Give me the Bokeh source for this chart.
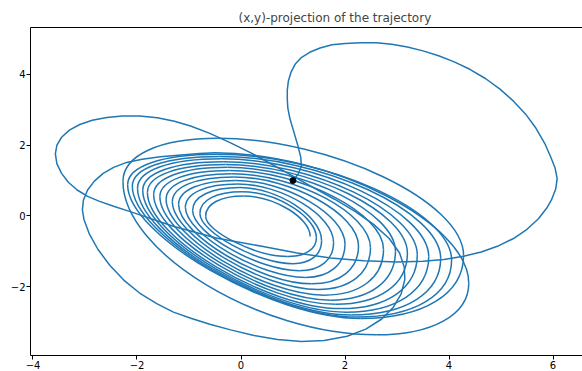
import numpy as np
from bokeh.plotting import figure
from bokeh.models import ColumnDataSource, FixedTicker, LinearAxis, Range1d
from bokeh.embed import file_html
from bokeh.resources import INLINE

# ---------------- data ----------------
title_text = "(x,y)-projection of the trajectory"
x_ticks = [-4, -2, 0, 2, 4, 6]
x_tick_labels = ["\u22124", "\u22122", "0", "2", "4", "6"]
y_ticks = [-2, 0, 2, 4]
y_tick_labels = ["\u22122", "0", "2", "4"]

start_x = [1.00]
start_y = [1.00]

# large outer excursions, traced point by point
outer_x = [1.00, 1.10, 1.16, 1.15, 1.10, 1.02, 0.94, 0.90, 0.89, 0.89, 0.91, 0.96, 1.04, 1.16, 1.32,
           1.52, 1.75, 2.00, 2.30, 2.60, 2.90, 3.20, 3.50, 3.80, 4.10, 4.40, 4.70, 4.98, 5.24, 5.47,
           5.67, 5.84, 5.96, 6.04, 6.08, 6.05, 5.97, 5.88, 5.72, 5.50, 5.24, 4.93, 4.62, 4.28, 3.90,
           3.50, 3.00, 2.36, 1.72, 1.08, 0.40, -0.46, -1.29, -2.13, -2.45, -2.72, -2.95, -3.15, -3.32,
           -3.45, -3.54, -3.57, -3.54, -3.45, -3.30, -3.10, -2.86, -2.58, -2.28, -1.95, -1.61, -1.28,
           -0.97, -0.60, -0.20, 0.20, 0.60, 1.00, 1.40, 1.80, 2.20, 2.55, 2.85, 3.05, 3.14, 3.15, 3.08,
           2.93, 2.70, 2.40, 2.04, 1.60, 1.16, 0.70, 0.25, -0.20, -0.60, -0.95, -1.30, -1.62, -1.95,
           -2.25, -2.52, -2.75, -2.92, -3.02, -3.05, -3.03, -2.95, -2.82, -2.65, -2.45, -2.20, -1.90,
           -1.55, -1.15, -0.80, -0.50]
outer_y = [1.00, 1.18, 1.40, 1.65, 1.95, 2.35, 2.75, 3.05, 3.30, 3.55, 3.80, 4.05, 4.28, 4.47, 4.62,
           4.74, 4.83, 4.87, 4.89, 4.89, 4.85, 4.77, 4.66, 4.52, 4.35, 4.14, 3.88, 3.58, 3.24, 2.88,
           2.48, 2.05, 1.65, 1.35, 1.05, 0.75, 0.45, 0.22, -0.08, -0.38, -0.64, -0.86, -1.02, -1.14, -1.23,
           -1.28, -1.30, -1.27, -1.19, -1.05, -0.86, -0.63, -0.30, 0.12, 0.27, 0.41, 0.55, 0.73, 0.95,
           1.20, 1.47, 1.75, 2.00, 2.22, 2.42, 2.58, 2.70, 2.78, 2.82, 2.82, 2.77, 2.67,
           2.54, 2.33, 2.06, 1.77, 1.45, 1.12, 0.79, 0.47, 0.12, -0.24, -0.64, -1.05, -1.45, -1.80, -2.20,
           -2.58, -2.92, -3.20, -3.40, -3.52, -3.55, -3.49, -3.38, -3.22, -3.06, -2.90, -2.72, -2.48, -2.18,
           -1.82, -1.40, -0.95, -0.50, -0.10, 0.17, 0.45, 0.73, 0.98, 1.20, 1.37, 1.51, 1.60,
           1.67, 1.72, 1.76, 1.78]

# spiral part: turning points of each loop (T = top, R = right, B = bottom, L = left)
spiral_x = [-0.50, 4.38, 2.60, -2.27, -0.45, 4.28, 2.30, -2.18, -0.46, 4.05, 2.22, -2.09, -0.42,
            3.84, 2.12, -1.99, -0.38, 3.61, 2.02, -1.89, -0.34, 3.39, 1.92, -1.80, -0.30, 3.20, 1.82,
            -1.68, -0.26, 2.97, 1.72, -1.56, -0.22, 2.74, 1.60, -1.44, -0.18, 2.49, 1.48, -1.32, -0.14,
            2.26, 1.36, -1.20, -0.10, 2.00, 1.24, -1.07, -0.06, 1.78, 1.12, -0.93, -0.02, 1.55, 1.00,
            -0.79, 0.02, 1.45, 0.90, -0.68, 0.05, 1.33]
spiral_y = [1.78, -1.90, -3.36, 0.97, 2.19, -1.12, -2.90, 0.88, 1.74, -1.25, -2.86, 0.84, 1.68,
            -1.20, -2.80, 0.78, 1.61, -1.15, -2.72, 0.72, 1.53, -1.10, -2.62, 0.66, 1.45, -1.05, -2.50,
            0.60, 1.37, -1.00, -2.38, 0.54, 1.28, -0.95, -2.24, 0.47, 1.19, -0.90, -2.08, 0.40, 1.10,
            -0.85, -1.92, 0.32, 1.00, -0.80, -1.74, 0.24, 0.90, -0.75, -1.55, 0.15, 0.80, -0.70, -1.35,
            0.07, 0.68, -0.62, -1.15, -0.01, 0.56, -0.58]
spiral_kind = ["T", "R", "B", "L"] * 15 + ["T", "R"]

# ---------------- figure ----------------
p = figure(width=582, height=371, output_backend="svg", toolbar_location=None,
           x_range=Range1d(-4.048, 6.567), y_range=Range1d(-3.944, 5.32),
           min_border_left=30, min_border_right=0, min_border_top=27, min_border_bottom=14)
p.title.text = title_text
p.title.text_font = "DejaVu Sans"
p.title.text_font_size = "12px"
p.title.text_font_style = "normal"
p.title.align = "left"
p.title.offset = 208
p.title.standoff = 5
p.outline_line_color = None
p.grid.visible = False
p.background_fill_color = "white"

for ax in (p.xaxis[0], p.yaxis[0]):
    ax.axis_line_color = "black"
    ax.axis_line_width = 1
    ax.major_tick_line_color = "black"
    ax.major_tick_in = 0
    ax.major_tick_out = 4
    ax.minor_tick_line_color = None
    ax.major_label_text_font = "DejaVu Sans"
    ax.major_label_text_font_size = "10px"
    ax.major_label_text_color = "black"
    ax.major_label_standoff = 1
p.xaxis.ticker = FixedTicker(ticks=x_ticks)
p.yaxis.ticker = FixedTicker(ticks=y_ticks)
p.xaxis.major_label_overrides = dict(zip(x_ticks, x_tick_labels))
p.yaxis.major_label_overrides = dict(zip(y_ticks, y_tick_labels))

top = LinearAxis(ticker=FixedTicker(ticks=[]), axis_line_color="black", axis_line_width=1,
                 major_tick_line_color=None, minor_tick_line_color=None,
                 major_label_text_font_size="0px")
p.add_layout(top, "above")

line_color = "#1f77b4"
p.line(outer_x, outer_y, line_color=line_color, line_width=1.5)

# smooth elliptic arcs through the turning points (vertical tangent at L/R, horizontal at T/B);
# handle fraction: longer round the loop ends, shorter along the long tilted sides
sx = np.array(spiral_x); sy = np.array(spiral_y)
kinds = np.array(spiral_kind)
x0, y0, x1, y1 = sx[:-1], sy[:-1], sx[1:], sy[1:]
k0 = kinds[:-1]
seg = np.arange(len(k0))
kseg = np.where(np.isin(k0, ["L", "R"]), 0.61, 0.46)
kseg = np.where((k0 == "B") & (seg >= 4), 0.38, kseg)
vert0 = np.isin(kinds[:-1], ["L", "R"])
vert1 = np.isin(kinds[1:], ["L", "R"])
cx0 = np.where(vert0, x0, x0 + kseg * (x1 - x0))
cy0 = np.where(vert0, y0 + kseg * (y1 - y0), y0)
cx1 = np.where(vert1, x1, x1 + kseg * (x0 - x1))
cy1 = np.where(vert1, y1 + kseg * (y0 - y1), y1)
src = ColumnDataSource(dict(x0=x0, y0=y0, x1=x1, y1=y1, cx0=cx0, cy0=cy0, cx1=cx1, cy1=cy1))
p.bezier(x0="x0", y0="y0", x1="x1", y1="y1", cx0="cx0", cy0="cy0", cx1="cx1", cy1="cy1",
         source=src, line_color=line_color, line_width=1.5)

p.scatter(start_x, start_y, size=6, color="black")

open("out.html", "w").write(file_html(p, INLINE))
